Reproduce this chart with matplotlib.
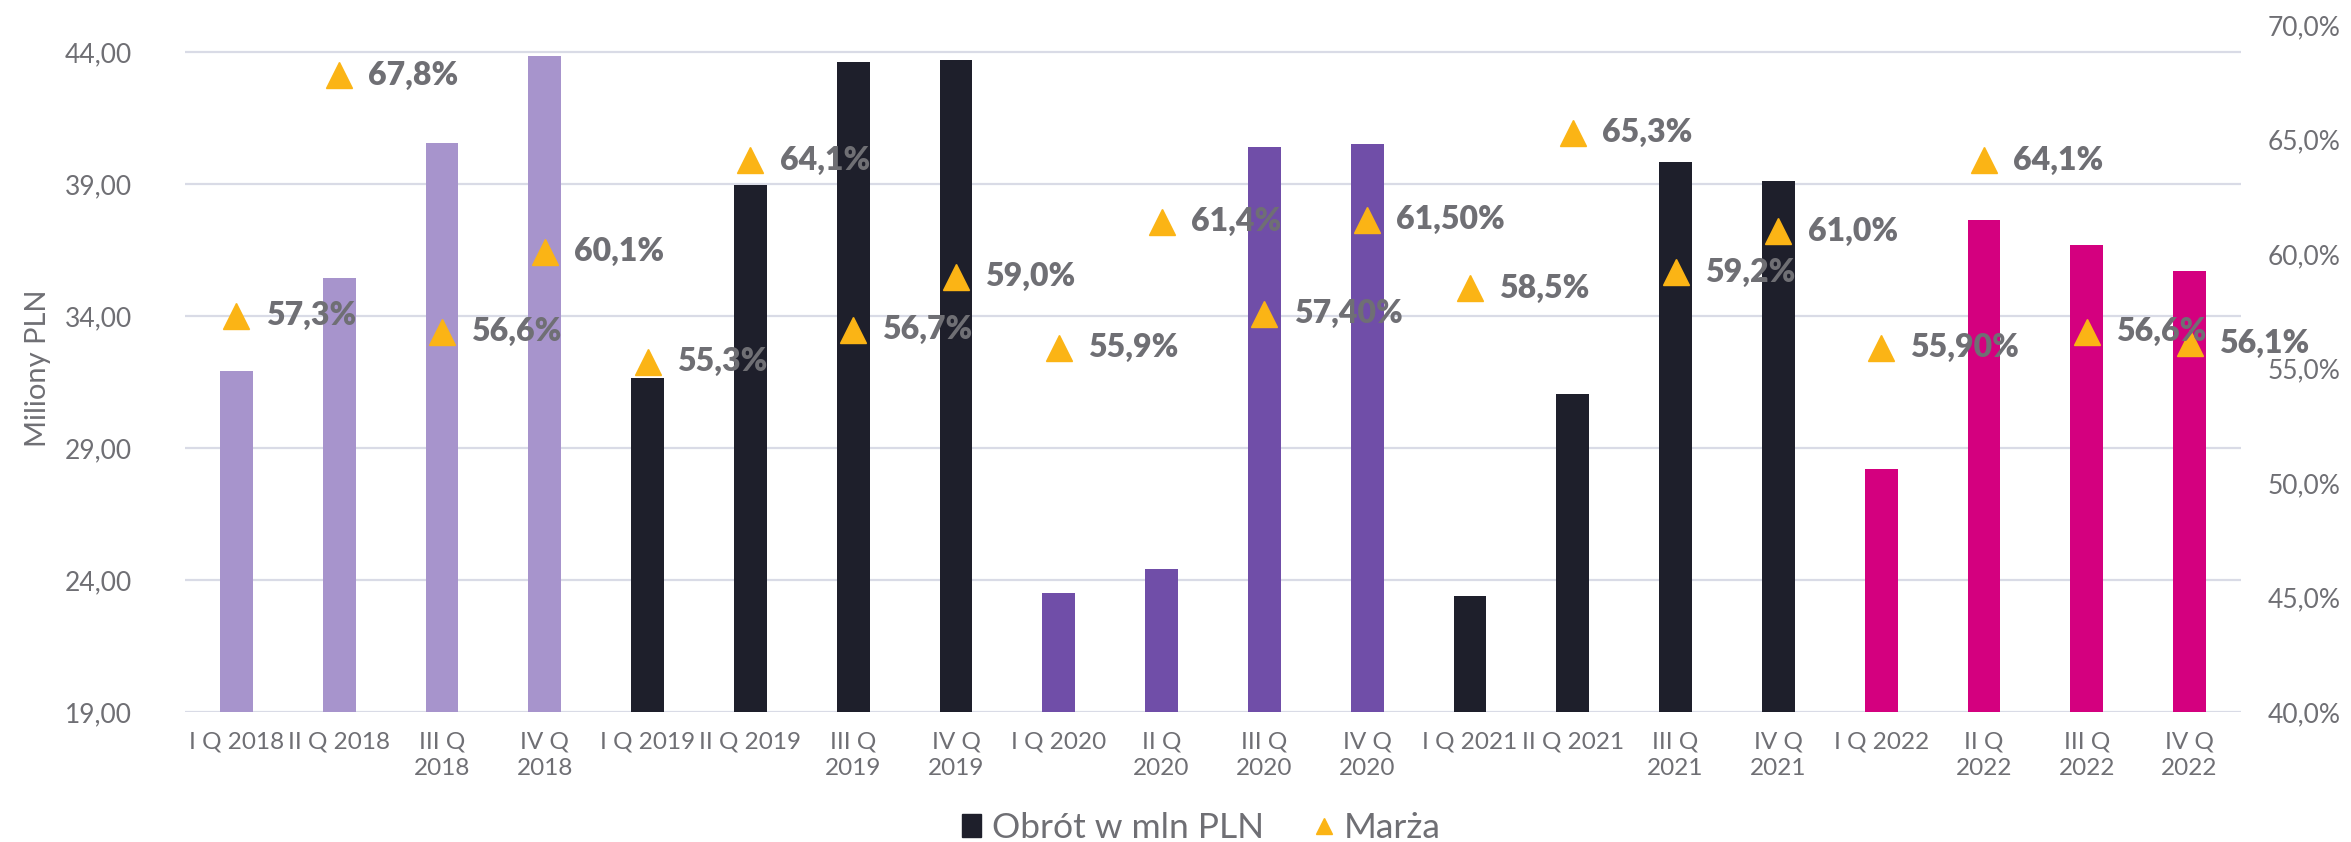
import matplotlib.pyplot as plt
from matplotlib.patches import Patch
from matplotlib.lines import Line2D
from matplotlib.ticker import FuncFormatter

# dane
kwartaly = ['I Q 2018', 'II Q 2018', 'III Q\n2018', 'IV Q\n2018',
            'I Q 2019', 'II Q 2019', 'III Q\n2019', 'IV Q\n2019',
            'I Q 2020', 'II Q\n2020', 'III Q\n2020', 'IV Q\n2020',
            'I Q 2021', 'II Q 2021', 'III Q\n2021', 'IV Q\n2021',
            'I Q 2022', 'II Q\n2022', 'III Q\n2022', 'IV Q\n2022']
obrot = [31.9, 35.45, 40.55, 43.85,
         31.65, 38.95, 43.6, 43.7,
         23.5, 24.4, 40.4, 40.5,
         23.4, 31.05, 39.85, 39.1,
         28.2, 37.65, 36.7, 35.7]
marza = [57.3, 67.8, 56.6, 60.1,
         55.3, 64.1, 56.7, 59.0,
         55.9, 61.4, 57.4, 61.5,
         58.5, 65.3, 59.2, 61.0,
         55.9, 64.1, 56.6, 56.1]
marza_etykiety = ['57,3%', '67,8%', '56,6%', '60,1%',
                  '55,3%', '64,1%', '56,7%', '59,0%',
                  '55,9%', '61,4%', '57,40%', '61,50%',
                  '58,5%', '65,3%', '59,2%', '61,0%',
                  '55,90%', '64,1%', '56,6%', '56,1%']
kolory = ['#a794cc'] * 4 + ['#1e1f2b'] * 4 + ['#704ea8'] * 4 + ['#1e1f2b'] * 4 + ['#d4007f'] * 4

szary = '#6f6f74'
plt.rcParams['font.family'] = ['Lato', 'DejaVu Sans']

fig = plt.figure(figsize=(23.51, 8.42), dpi=100)
ax = fig.add_axes([0.0787, 0.1544, 0.8745, 0.8159])
ax2 = ax.twinx()

x = range(len(kwartaly))
ax.bar(x, obrot, width=0.32, color=kolory, zorder=2)

ax.set_ylim(19, 45.02)
ax.set_yticks([19, 24, 29, 34, 39, 44])
ax.yaxis.set_major_formatter(FuncFormatter(lambda v, p: f'{v:.2f}'.replace('.', ',')))
ax.set_xlim(-0.5, len(kwartaly) - 0.5)
ax.set_xticks(list(x))
ax.set_xticklabels(kwartaly, fontsize=17.5, color=szary, linespacing=1.3)
ax.grid(axis='y', color='#d9dbe6', linewidth=1.6)
ax.set_axisbelow(True)
ax.tick_params(axis='y', length=0, pad=38, labelsize=19, labelcolor=szary)
ax.tick_params(axis='x', length=0, pad=14)
ax.set_ylabel('Miliony PLN', fontsize=21, color=szary, labelpad=10)

ax2.plot(x, marza, linestyle='none', marker='^', markersize=19, color='#fbb415', zorder=3)
for i, (m, lab) in enumerate(zip(marza, marza_etykiety)):
    ax2.annotate(lab, (i, m), xytext=(21, 0), textcoords='offset points',
                 va='center', ha='left', fontsize=23, fontweight='heavy', color=szary)
ax2.set_ylim(40, 70)
ax2.set_yticks([40, 45, 50, 55, 60, 65, 70])
ax2.yaxis.set_major_formatter(FuncFormatter(lambda v, p: f'{v:.1f}%'.replace('.', ',')))
ax2.tick_params(axis='y', length=0, pad=19, labelsize=19, labelcolor=szary)

for a in (ax, ax2):
    for s in a.spines.values():
        s.set_visible(False)

uchwyty = [Patch(color='#1e1f2b', label='Obrót w mln PLN'),
           Line2D([], [], linestyle='none', marker='^', markersize=12, color='#fbb415', label='Marża')]
fig.legend(handles=uchwyty, loc='lower center', bbox_to_anchor=(0.511, -0.04), ncol=2, frameon=False,
           labelcolor=szary, handlelength=0.55, handleheight=0.65, handletextpad=0.3,
           columnspacing=1.4, prop={'size': 25.5})

fig.savefig('out.png', dpi=100)
